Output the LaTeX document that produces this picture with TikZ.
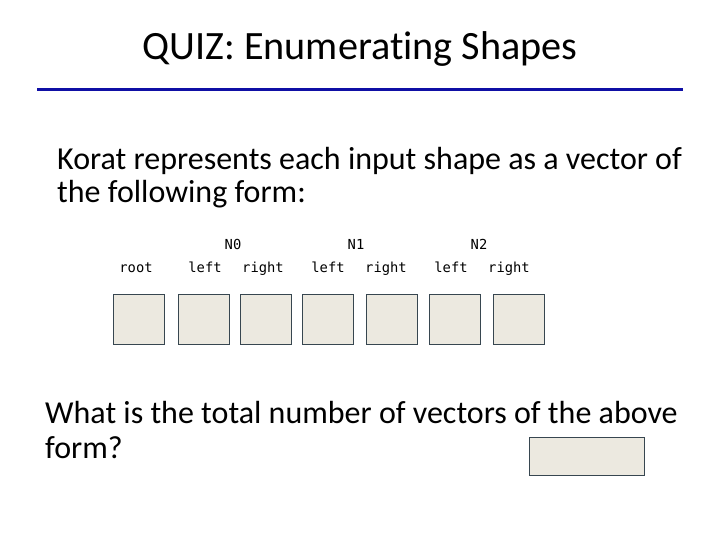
\documentclass[tikz,border=0pt]{standalone}
\usepackage{fontspec}
\setmainfont[Ligatures=NoCommon]{Carlito}
\setmonofont{DejaVu Sans Mono}
\definecolor{quizblue}{RGB}{15,15,165}
\definecolor{cellfill}{RGB}{236,233,224}
\definecolor{celldraw}{RGB}{55,70,80}
\tikzset{
	slidetext/.style={anchor=base west, inner sep=0pt, font=\fontsize{32}{38}\selectfont},
	fieldlabel/.style={anchor=base, inner sep=0pt, font=\ttfamily\fontsize{13.8}{16}\selectfont},
	cell/.style={draw=celldraw, line width=1.2pt, fill=cellfill, minimum width=51pt, minimum height=50pt, inner sep=0pt, anchor=north west}
}

\begin{document}
\begin{tikzpicture}[x=1pt, y=-1pt]
	\useasboundingbox (0,0) rectangle (720,540);
	\node[anchor=base, inner sep=0pt, font=\fontsize{40.2}{44}\selectfont] (title) at (360,60) {QUIZ: Enumerating Shapes};
	\coordinate (ruleL) at (37,90);
	\coordinate (ruleR) at (683,90);
	\draw[quizblue, line width=3pt] (ruleL) -- (ruleR);
	\node[slidetext] (intro1) at (57,170) {Korat represents each input shape as a vector of};
	\node[slidetext] (intro2) at (57,203) {the following form:};
	% the vector cells
	\foreach \x/\name in {113/root, 178/nzl, 240/nzr, 302/nol, 366/nor, 429/ntl, 493/ntr}
		\node[cell] (\name) at (\x,294) {};
	\node[fieldlabel] (lroot) at (136,272) {root};
	\node[fieldlabel] (lnzl) at (205,272) {left};
	\node[fieldlabel] (lnzr) at (263,272) {right};
	\node[fieldlabel] (lnol) at (328,272) {left};
	\node[fieldlabel] (lnor) at (386,272) {right};
	\node[fieldlabel] (lntl) at (451,272) {left};
	\node[fieldlabel] (lntr) at (509,272) {right};
	\node[fieldlabel] (nzero) at (233,249) {N0};
	\node[fieldlabel] (none) at (356,249) {N1};
	\node[fieldlabel] (ntwo) at (479,249) {N2};
	\node[slidetext] (ask1) at (45,423) {What is the total number of vectors of the above};
	\node[slidetext] (ask2) at (45,458) {form?};
	\node[cell, minimum width=115pt, minimum height=38pt] (answer) at (529,437) {};
\end{tikzpicture}
\end{document}
